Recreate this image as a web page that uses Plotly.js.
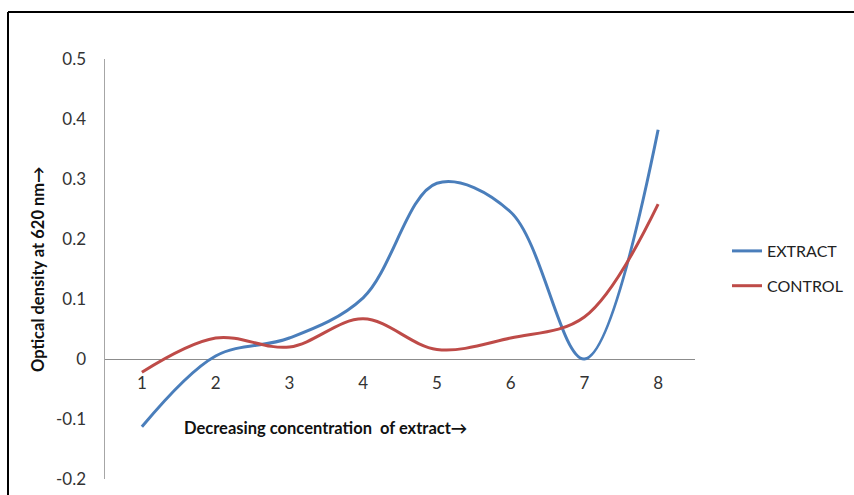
<!DOCTYPE html>
<html>
<head>
<meta charset="utf-8">
<script src="https://cdn.plot.ly/plotly-3.0.1.min.js"></script>
<style>html,body{margin:0;padding:0;background:#fff;}#chart{width:854px;height:495px;}</style>
</head>
<body>
<div id="chart"></div>
<script>
const categories = ['1','2','3','4','5','6','7','8'];
const extractValues = [-0.113, 0.005, 0.035, 0.102, 0.293, 0.245, 0.0, 0.382];
const controlValues = [-0.022, 0.035, 0.02, 0.067, 0.016, 0.035, 0.07, 0.258];
const seriesNames = ['EXTRACT', 'CONTROL'];
const yTickValues = [-0.2, -0.1, 0, 0.1, 0.2, 0.3, 0.4, 0.5];
const yTickLabels = ['-0.2', '-0.1', '0', '0.1', '0.2', '0.3', '0.4', '0.5'];

const FONT = 'Lato, "Open Sans", sans-serif';

const traces = [
  {x: categories, y: extractValues, name: seriesNames[0], type: 'scatter', mode: 'lines',
   line: {color: '#4a7ebb', width: 3, shape: 'spline', smoothing: 1}, legendgroup: 'a'},
  {x: categories, y: controlValues, name: seriesNames[1], type: 'scatter', mode: 'lines',
   line: {color: '#be4b48', width: 3, shape: 'spline', smoothing: 1}, legendgroup: 'b'}
];

const layout = {
  width: 854, height: 495,
  margin: {l: 105, r: 159, t: 59, b: 16},
  paper_bgcolor: '#fff', plot_bgcolor: '#fff',
  font: {family: FONT, size: 16, color: '#333'},
  showlegend: true,
  legend: {xref: 'container', yref: 'container', x: 727 / 854, y: (495 - 234) / 495,
           xanchor: 'left', yanchor: 'top', tracegroupgap: 11,
           font: {family: FONT, size: 16, color: '#222'}, bgcolor: 'rgba(0,0,0,0)'},
  xaxis: {type: 'category', range: [-0.5, 7.5], anchor: 'free', position: 0.2857,
          showline: false, showgrid: false, zeroline: false, ticks: '',
          ticklabelstandoff: 12, tickfont: {family: FONT, size: 17, color: '#333'}},
  yaxis: {range: [-0.2, 0.5], tickvals: yTickValues, ticktext: yTickLabels,
          showline: true, linecolor: '#a6a6a6', linewidth: 1.5, showgrid: false,
          zeroline: true, zerolinecolor: '#8c8c8c', zerolinewidth: 1, ticks: '',
          ticklabelstandoff: 14, tickfont: {family: FONT, size: 17, color: '#333'}},
  annotations: [
    {text: '<b>Decreasing concentration  of extract→</b>', xref: 'paper', yref: 'paper',
     x: (325 - 105) / 590, y: (479 - 428) / 420, xanchor: 'center', yanchor: 'middle',
     showarrow: false, font: {family: FONT, size: 16.5, color: '#111'}},
    {text: '<b>Optical density at 620 nm→</b>', xref: 'paper', yref: 'paper', textangle: -90,
     x: (38 - 105) / 590, y: (479 - 269) / 420, xanchor: 'center', yanchor: 'middle',
     showarrow: false, font: {family: FONT, size: 16.5, color: '#111'}}
  ],
  shapes: [
    {type: 'line', xref: 'paper', yref: 'paper', x0: (8 - 105) / 590, x1: (856 - 105) / 590,
     y0: (479 - 12) / 420, y1: (479 - 12) / 420, line: {color: '#000', width: 2}},
    {type: 'line', xref: 'paper', yref: 'paper', x0: (8 - 105) / 590, x1: (8 - 105) / 590,
     y0: (479 - 12) / 420, y1: (479 - 497) / 420, line: {color: '#000', width: 2}}
  ]
};

Plotly.newPlot('chart', traces, layout, {displayModeBar: false, staticPlot: true});
</script>
</body>
</html>
